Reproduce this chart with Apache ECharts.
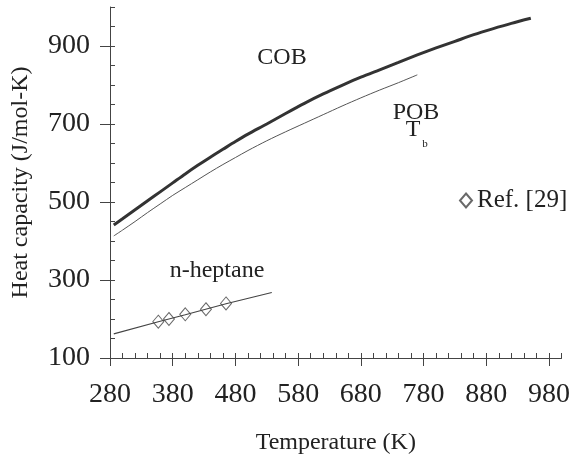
<!DOCTYPE html>
<html>
<head>
<meta charset="utf-8">
<script src="https://cdn.jsdelivr.net/npm/echarts@6/dist/echarts.min.js"></script>
<style>
  html, body { margin: 0; background: #fff; }
  #chart { width: 573px; height: 463px; }
</style>
</head>
<body>
<div id="chart"></div>
<script>
// COB curve (thick)
const cobT  = [286, 300, 320, 340, 360, 380, 400, 420, 440, 460, 480, 500, 530, 560, 590, 620, 650, 680, 710, 740, 770, 800, 830, 860, 890, 920, 951];
const cobCp = [441, 457, 480, 503, 526, 549, 572, 594, 615, 635, 655, 674, 700, 727, 753, 777, 799, 820, 839, 858, 877, 895, 912, 929, 944, 958, 971];
// POB curve (thin)
const pobT  = [286, 300, 320, 340, 360, 380, 400, 420, 440, 460, 480, 500, 530, 560, 590, 620, 650, 680, 710, 740, 770];
const pobCp = [413, 428, 450, 473, 495, 517, 537, 557, 577, 596, 614, 632, 657, 680, 702, 724, 746, 767, 787, 806, 826];
// n-heptane curve
const hepT  = [286, 357, 400, 465, 538];
const hepCp = [162, 193, 211, 239, 268];
// Ref. [29] points
const refT  = [357, 374, 400, 433, 465];
const refCp = [193, 200, 212, 225, 240];
// tick labels
const xTicks = [280, 380, 480, 580, 680, 780, 880, 980];
const yTicks = [100, 300, 500, 700, 900];

const zip = (a, b) => a.map((v, i) => [v, b[i]]);
const font = 'Liberation Serif';
const axisColor = '#444';

const chart = echarts.init(document.getElementById('chart'));
chart.setOption({
    animation: false,
    backgroundColor: '#fff',
    grid: {left: 110, right: 3, top: 7, bottom: 105},
    legend: {
        data: ['Ref. [29]'],
        left: 454, top: 183,
        itemWidth: 12, itemHeight: 14,
        textStyle: {fontFamily: font, fontSize: 25, color: '#222'}
    },
    xAxis: [
        {
            type: 'value', min: 280, max: 1000, interval: 100,
            axisLine: {onZero: false, lineStyle: {color: axisColor}},
            axisTick: {length: 8, customValues: xTicks, lineStyle: {color: axisColor}},
            axisLabel: {
                customValues: xTicks, margin: 23,
                fontFamily: font, fontSize: 28, color: '#222',
                formatter: v => (xTicks.includes(v) ? String(v) : '')
            },
            splitLine: {show: false},
            name: 'Temperature (K)', nameLocation: 'middle', nameGap: 73,
            nameTextStyle: {fontFamily: font, fontSize: 24, color: '#222'}
        },
        {
            type: 'value', min: 280, max: 1000, interval: 20, position: 'bottom',
            axisLine: {show: false, onZero: false},
            axisTick: {inside: true, length: 5, lineStyle: {color: axisColor}},
            axisLabel: {show: false},
            splitLine: {show: false}
        }
    ],
    yAxis: [
        {
            type: 'value', min: 100, max: 1000, interval: 200, position: 'left',
            axisLine: {show: true, onZero: false, lineStyle: {color: axisColor}},
            axisTick: {show: true, length: 10, customValues: yTicks, lineStyle: {color: axisColor}},
            axisLabel: {
                customValues: yTicks, margin: 20,
                fontFamily: font, fontSize: 28, color: '#222',
                formatter: v => (yTicks.includes(v) ? String(v) : '')
            },
            splitLine: {show: false},
            name: 'Heat capacity (J/mol-K)', nameLocation: 'middle', nameGap: 77,
            nameTextStyle: {fontFamily: font, fontSize: 24, color: '#222'}
        },
        {
            type: 'value', min: 100, max: 1000, interval: 50, position: 'left',
            axisLine: {show: false, onZero: false},
            axisTick: {show: true, inside: true, length: 5, lineStyle: {color: axisColor}},
            axisLabel: {show: false},
            splitLine: {show: false}
        }
    ],
    graphic: [
        {type: 'text', x: 282, y: 58, style: {text: 'COB', font: '24px "Liberation Serif"', fill: '#222', align: 'center', verticalAlign: 'middle'}},
        {type: 'text', x: 416, y: 113, style: {text: 'POB', font: '24px "Liberation Serif"', fill: '#222', align: 'center', verticalAlign: 'middle'}},
        {type: 'text', x: 413, y: 130, style: {text: 'T', font: '24px "Liberation Serif"', fill: '#222', align: 'center', verticalAlign: 'middle'}},
        {type: 'text', x: 425, y: 144, style: {text: 'b', font: '11px "Liberation Serif"', fill: '#222', align: 'center', verticalAlign: 'middle'}},
        {type: 'text', x: 217, y: 271, style: {text: 'n-heptane', font: '24px "Liberation Serif"', fill: '#222', align: 'center', verticalAlign: 'middle'}}
    ],
    series: [
        {
            name: 'COB', type: 'line', data: zip(cobT, cobCp), smooth: 0.3,
            showSymbol: false, lineStyle: {color: '#333', width: 3}
        },
        {
            name: 'POB', type: 'line', data: zip(pobT, pobCp), smooth: 0.3,
            showSymbol: false, lineStyle: {color: '#555', width: 1}
        },
        {
            name: 'n-heptane', type: 'line', data: zip(hepT, hepCp),
            showSymbol: false, lineStyle: {color: '#444', width: 1.2}
        },
        {
            name: 'Ref. [29]', type: 'scatter', data: zip(refT, refCp),
            symbol: 'diamond', symbolSize: [11, 13],
            itemStyle: {color: '#fff', borderColor: '#444', borderWidth: 1}
        }
    ]
});
</script>
</body>
</html>
